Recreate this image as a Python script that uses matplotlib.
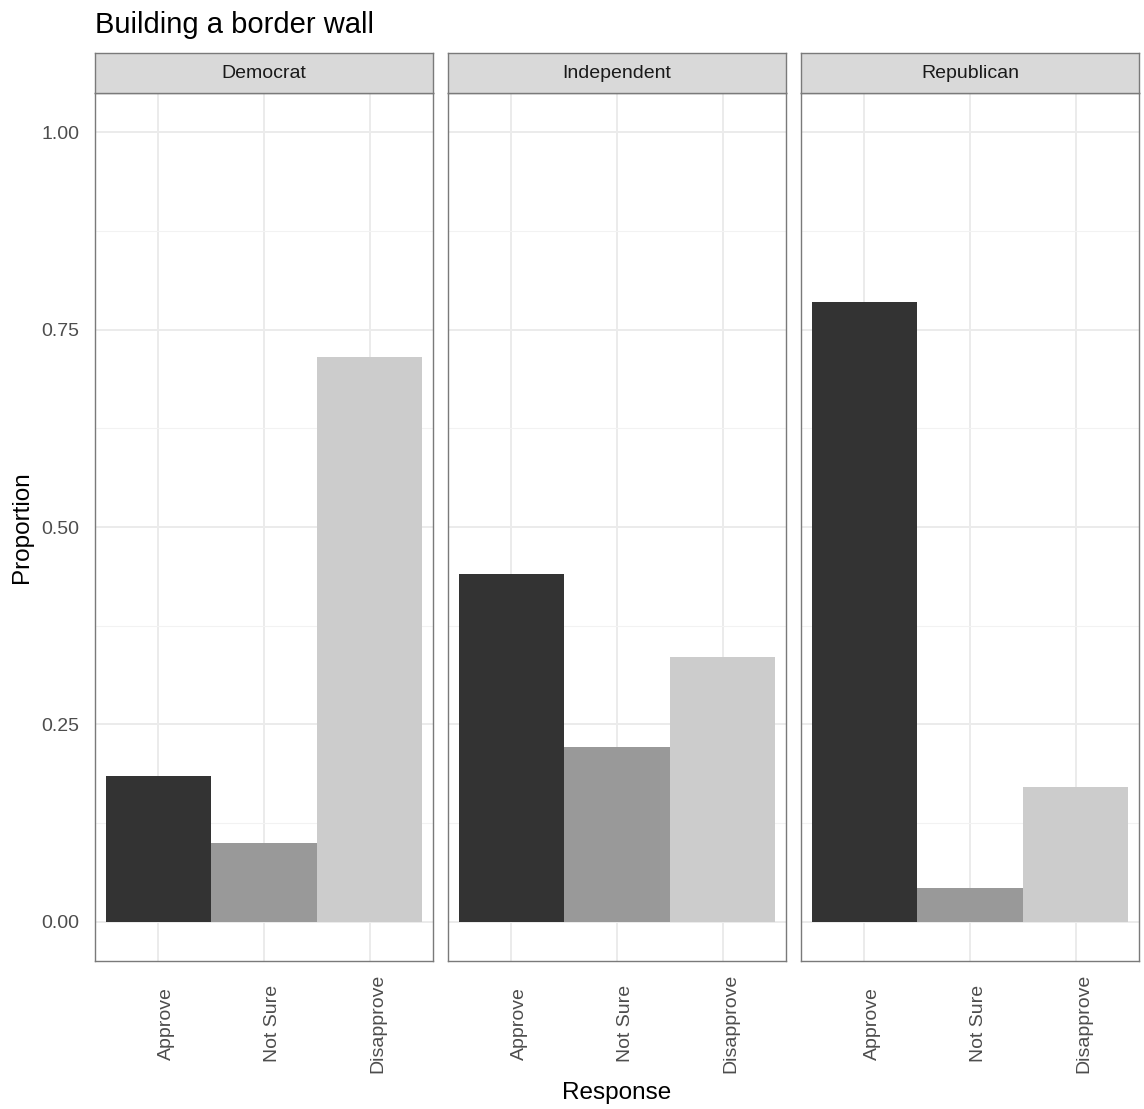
import matplotlib
matplotlib.use("Agg")
import matplotlib.pyplot as plt

matplotlib.rcParams["font.family"] = ["Liberation Sans", "DejaVu Sans"]

parties = ["Democrat", "Independent", "Republican"]
responses = ["Approve", "Not Sure", "Disapprove"]
proportions = {
    "Democrat": [0.184, 0.099, 0.715],
    "Independent": [0.441, 0.221, 0.335],
    "Republican": [0.785, 0.043, 0.170],
}
bar_colors = ["#333333", "#999999", "#CCCCCC"]
y_ticks = [0.0, 0.25, 0.5, 0.75, 1.0]
y_minor = [0.125, 0.375, 0.625, 0.875]

W, H = 1144, 1109
fig = plt.figure(figsize=(W / 100, H / 100), dpi=100)

# panel geometry in pixels
panel_left = [95, 448, 801]
panel_w = 338
panel_top, panel_bot = 93, 961
strip_top = 53
border = "#7a7a7a"

for i, party in enumerate(parties):
    x0 = panel_left[i]
    ax = fig.add_axes([x0 / W, 1 - panel_bot / H, panel_w / W, (panel_bot - panel_top) / H])
    xs = list(range(1, len(responses) + 1))
    ax.bar(xs, proportions[party], width=1.0, color=bar_colors, zorder=3)
    ax.set_xlim(0.4, 3.6)
    ax.set_ylim(-0.05, 1.05)
    ax.set_yticks(y_ticks)
    ax.set_yticks(y_minor, minor=True)
    ax.set_xticks(xs)
    ax.grid(True, which="major", color="#EBEBEB", linewidth=1.4, zorder=0)
    ax.grid(True, which="minor", axis="y", color="#F2F2F2", linewidth=0.8, zorder=0)
    ax.set_xticklabels(responses, rotation=90, va="center", ha="left",
                       fontsize=14, color="#4D4D4D")
    ax.tick_params(axis="x", length=0, pad=45)
    ax.tick_params(axis="y", which="both", length=0, pad=11, labelsize=14, labelcolor="#4D4D4D")
    if i == 0:
        ax.set_yticklabels([f"{t:.2f}" for t in y_ticks])
    else:
        ax.set_yticklabels([])
    for s in ax.spines.values():
        s.set_color(border)
        s.set_linewidth(1.0)
    ax.set_axisbelow(True)

    sax = fig.add_axes([x0 / W, 1 - panel_top / H, panel_w / W, (panel_top - strip_top) / H])
    sax.set_facecolor("#D9D9D9")
    sax.set_xticks([])
    sax.set_yticks([])
    for s in sax.spines.values():
        s.set_color(border)
        s.set_linewidth(1.0)
    sax.text(0.5, 0.5, party, ha="center", va="center", fontsize=14, color="#1A1A1A",
             transform=sax.transAxes)

fig.text(95 / W, 1 - 33 / H, "Building a border wall", fontsize=21, color="black",
         ha="left", va="baseline")
fig.text((95 + 1138) / 2 / W, 1 - 1093 / H, "Response", fontsize=17.5, color="black",
         ha="center", va="center")
fig.text(22 / W, 1 - 527 / H, "Proportion", fontsize=17.5, color="black",
         ha="center", va="center", rotation=90)

fig.savefig("out.png", dpi=100)
